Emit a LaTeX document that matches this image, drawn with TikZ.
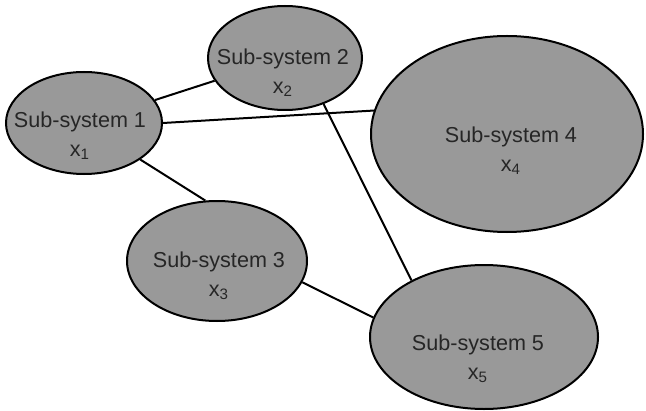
\documentclass[tikz,border=0pt]{standalone}
\usepackage{fontspec}
\setmainfont{Liberation Sans}
\usetikzlibrary{shapes.geometric}
\definecolor{sysfill}{RGB}{153,153,153}
\definecolor{systext}{RGB}{38,38,38}
\begin{document}
\begin{tikzpicture}[x=0.5pt, y=-0.5pt,
    sys/.style={ellipse, draw=black, line width=1pt, fill=sysfill, inner sep=0pt},
    lbl/.style={align=center, text=systext, font=\fontsize{10.8}{14.5}\selectfont},
    link/.style={line width=1pt}]
  \useasboundingbox (0,0) rectangle (646,411);
  \node[sys, minimum width=78pt, minimum height=51pt] (s1) at (84,123) {};
  \node[sys, minimum width=77pt, minimum height=52pt] (s2) at (285,58) {};
  \node[sys, minimum width=90pt, minimum height=60pt] (s3) at (217,261) {};
  \node[sys, minimum width=136pt, minimum height=98pt] (s4) at (507,134) {};
  \node[sys, minimum width=114pt, minimum height=72pt] (s5) at (484,337) {};
  \node[lbl] (t1) at (80,136) {Sub-system 1\\x\textsubscript{1}};
  \node[lbl] (t2) at (283,73) {Sub-system 2\\x\textsubscript{2}};
  \node[lbl] (t3) at (219,276) {Sub-system 3\\x\textsubscript{3}};
  \node[lbl] (t4) at (511,151) {Sub-system 4\\x\textsubscript{4}};
  \node[lbl] (t5) at (478,359) {Sub-system 5\\x\textsubscript{5}};
  \draw[link] (s1) -- (s2);
  \draw[link] (s1.east) -- (s4.170);
  \draw[link] (s1.-33) -- (s3.101);
  \draw[link] (s2.-50) -- (s5.142);
  \draw[link] (s3.-14) -- (s5.170);
\end{tikzpicture}
\end{document}
